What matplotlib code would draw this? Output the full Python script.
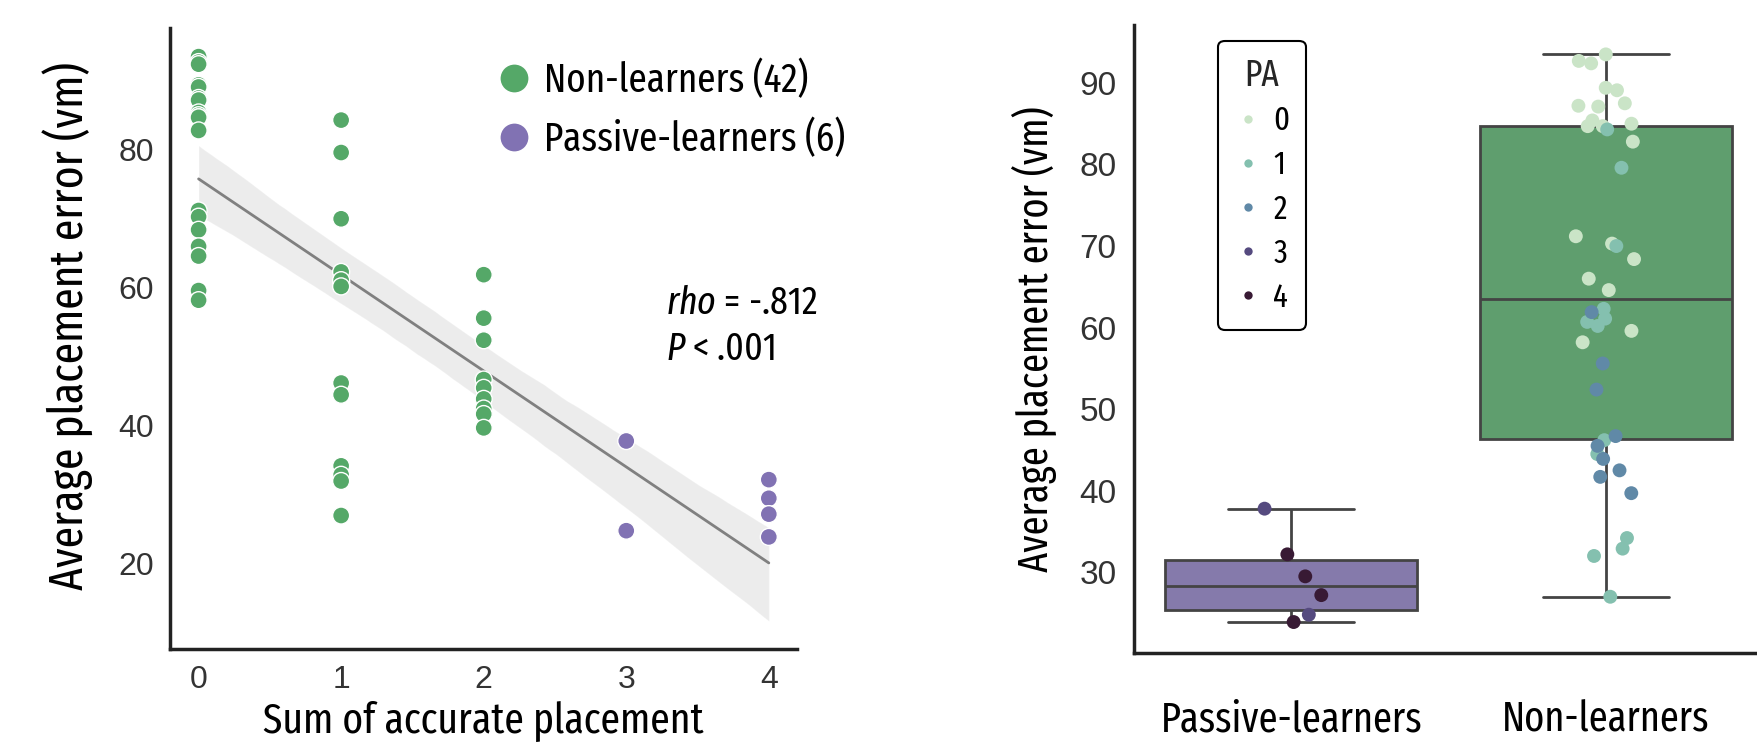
import matplotlib

matplotlib.use("Agg")
import matplotlib.pyplot as plt
import numpy as np
import pandas as pd
import seaborn as sns
from matplotlib import font_manager
from matplotlib.lines import Line2D

# Non-learners: average placement error and sum of accurate placement (PA)
non_err = [93.5, 92.7, 92.4, 89.4, 89.1, 87.5, 87.1, 87.2, 85.4, 85.0, 84.7, 84.7, 82.8,
           71.2, 70.3, 68.4, 66.0, 64.6, 59.6, 58.2,
           84.3, 79.6, 70.0, 62.3, 60.7, 61.1, 60.2, 46.2, 44.5, 34.2, 32.9, 32.0, 27.0,
           61.9, 55.6, 52.4, 46.7, 45.5, 43.9, 42.5, 41.7, 39.7]
non_pa = [0] * 20 + [1] * 13 + [2] * 9
# Passive-learners
pas_err = [37.8, 24.8, 32.2, 29.5, 27.2, 23.9]
pas_pa = [3, 3, 4, 4, 4, 4]

group_names = ["Non-learners", "Passive-learners"]
box_order = ["Passive-learners", "Non-learners"]
legend_labels = ["Non-learners (42)", "Passive-learners (6)"]
pa_levels = [0, 1, 2, 3, 4]

df = pd.DataFrame({
    "err": non_err + pas_err,
    "pa": non_pa + pas_pa,
    "group": ["Non-learners"] * len(non_err) + ["Passive-learners"] * len(pas_err),
})

names = {f.name for f in font_manager.fontManager.ttflist}
cond = next((n for n in ["Fira Sans Extra Condensed", "Fira Sans Condensed",
                         "PT Sans Narrow", "Roboto Condensed", "Asap Condensed"]
             if n in names), "DejaVu Sans")
num_font = "Liberation Sans" if "Liberation Sans" in names else "DejaVu Sans"

sns.set_style("white")
plt.rcParams["font.family"] = [num_font, "DejaVu Sans"]
plt.rcParams["mathtext.fontset"] = "custom"
plt.rcParams["mathtext.rm"] = cond
plt.rcParams["mathtext.it"] = cond + ":italic"

green = "#55a868"
purple = "#8172b3"
pa_colors = sns.cubehelix_palette(5, start=.8, rot=-.75)

fig = plt.figure(figsize=(17.57, 7.47), dpi=100)
ax1 = fig.add_axes([0.0968, 0.131, 0.357, 0.831])
ax2 = fig.add_axes([0.6454, 0.1258, 0.358, 0.8407])

# ---- left: scatter + regression
sns.regplot(data=df, x="pa", y="err", scatter=False, ax=ax1, seed=3,
            line_kws={"color": "#808080", "linewidth": 2})
sns.scatterplot(data=df, x="pa", y="err", hue="group", hue_order=group_names,
                palette=[green, purple], s=150, edgecolor="white", linewidth=1,
                ax=ax1, legend=False, zorder=3)
ax1.set_xticks([0, 1, 2, 3, 4])
ax1.set_yticks([20, 40, 60, 80])
ax1.tick_params(axis="both", labelsize=23, labelcolor="#333333", pad=8)
ax1.set_xlabel("Sum of accurate placement", fontsize=31, family=cond, color="black",
               labelpad=4)
ax1.set_ylabel("Average placement error (vm)", fontsize=34, family=cond, color="black")
ax1.yaxis.set_label_coords(-0.123, 0.52)
handles = [Line2D([], [], marker="o", linestyle="", markersize=20, color=c, markeredgewidth=0)
           for c in [green, purple]]
ax1.legend(handles, legend_labels, loc="upper left", bbox_to_anchor=(0.49, 0.975),
           frameon=False, prop={"family": cond, "size": 29}, handletextpad=0.25,
           handlelength=1.0, labelspacing=0.45, borderaxespad=0, labelcolor="black")
ax1.text(0.79, 0.54, r"$\mathit{rho}$ = -.812", transform=ax1.transAxes,
         fontsize=28, family=cond, color="black")
ax1.text(0.79, 0.465, r"$\mathit{P}$ < .001", transform=ax1.transAxes,
         fontsize=28, family=cond, color="black")

# ---- right: box + strip
sns.boxplot(data=df, x="group", y="err", order=box_order, hue="group",
            hue_order=box_order, palette=[purple, green], saturation=0.75,
            showfliers=False, width=0.8, linewidth=2, linecolor="#444444",
            ax=ax2, legend=False)
np.random.seed(7)
sns.stripplot(data=df, x="group", y="err", order=box_order, hue="pa",
              hue_order=pa_levels, palette=pa_colors, size=10, jitter=0.1,
              linewidth=0, ax=ax2, legend=False, zorder=3)
ax2.set_xlim(-0.5, 1.5)
ax2.set_ylim(20.1, 97.1)
ax2.set_yticks(range(30, 100, 10))
ax2.tick_params(axis="y", labelsize=24, labelcolor="#333333", pad=9)
ax2.tick_params(axis="x", pad=30)
for lab in ax2.get_xticklabels():
    lab.set_fontfamily(cond)
    lab.set_fontsize(30)
    lab.set_color("black")
ax2.set_xlabel("")
ax2.set_ylabel("Average placement error (vm)", fontsize=30, family=cond, color="black",
               labelpad=16)
pa_handles = [Line2D([], [], marker="o", linestyle="", markersize=6, color=c,
                     markeredgewidth=0) for c in pa_colors]
leg = ax2.legend(pa_handles, [str(p) for p in pa_levels], title="PA",
                 loc="upper left", bbox_to_anchor=(0.134, 0.975), borderaxespad=0,
                 frameon=True, fancybox=True, prop={"family": cond, "size": 24},
                 title_fontproperties={"family": cond, "size": 26},
                 handletextpad=0.35, labelspacing=0.36, borderpad=0.5,
                 handlelength=0.8, labelcolor="black")
leg.get_frame().set_edgecolor("black")
leg.get_frame().set_linewidth(1.5)
leg.get_frame().set_alpha(1)

for ax in (ax1, ax2):
    sns.despine(ax=ax)
    for side in ("left", "bottom"):
        ax.spines[side].set_linewidth(2.5)
        ax.spines[side].set_color("#222222")

fig.savefig("out.png", dpi=100)
